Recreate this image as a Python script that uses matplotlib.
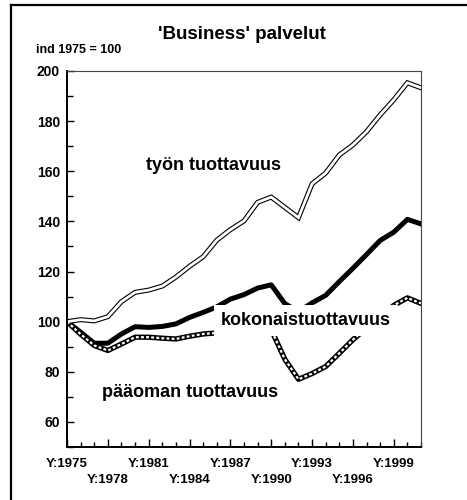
import numpy as np
import matplotlib
matplotlib.use('Agg')
import matplotlib.pyplot as plt
from matplotlib.lines import Line2D
from matplotlib.ticker import MultipleLocator

plt.rcParams['font.family'] = ['Liberation Sans', 'DejaVu Sans']
plt.rcParams['font.weight'] = 'bold'

# index 1975 = 100
years = np.arange(1975, 2002)
tyon = [100, 100.8, 100.3, 102, 108, 111.7, 112.6, 114.2, 117.8, 122.1,
        125.9, 132.5, 136.7, 140.2, 147.6, 149.7, 145.6, 141.5, 155, 159.3,
        166.5, 170.5, 175.8, 182.5, 188.5, 195.3, 193.3]
kokonais = [100, 95.8, 91.4, 91.4, 95.1, 98, 97.7, 98.1, 99.1, 101.7,
            103.7, 105.9, 109, 110.8, 113.4, 114.7, 107.2, 104, 107.5, 110.5,
            116, 121.3, 126.8, 132.4, 135.7, 140.8, 139]
paaoma = [100, 95, 90.5, 88.5, 91.1, 93.8, 93.8, 93.4, 93.1, 94.2,
          95.1, 95.5, 96.2, 96.4, 96.6, 96.8, 85, 77, 79.3, 82.1,
          87.4, 92.8, 97.5, 102, 106.5, 109.5, 107.3]

tick_years = np.arange(1975, 2000, 3)
tick_labels = ['Y:%d' % y if k % 2 == 0 else '\nY:%d' % y
               for k, y in enumerate(tick_years)]

fig = plt.figure(figsize=(4.67, 5), dpi=100)
ax = fig.add_axes([0.1435, 0.106, 0.758, 0.752])

# työn tuottavuus: double line
ax.plot(years, tyon, color='black', lw=3.6, zorder=2, solid_joinstyle='miter')
ax.plot(years, tyon, color='white', lw=2.0, zorder=2.1, solid_joinstyle='miter')
# kokonaistuottavuus: thick black
ax.plot(years, kokonais, color='black', lw=3.6, zorder=2)
# pääoman tuottavuus: black with white dashes
ax.plot(years, paaoma, color='black', lw=3.8, zorder=2)
ax.plot(years, paaoma, color='white', lw=1.6, zorder=2.1,
        linestyle=(0, (1.3, 1.0)))

ax.set_xlim(1975, 2001)
ax.set_ylim(50, 200)
ax.set_yticks(np.arange(60, 201, 20))
ax.yaxis.set_minor_locator(MultipleLocator(10))
ax.set_xticks(tick_years)
ax.set_xticklabels(tick_labels, linespacing=1.4)
ax.xaxis.set_minor_locator(MultipleLocator(1))

ax.tick_params(axis='both', which='both', direction='in', width=1)
ax.tick_params(axis='y', which='major', length=5, labelsize=10, pad=5)
ax.tick_params(axis='y', which='minor', length=4)
ax.tick_params(axis='x', which='major', length=6, labelsize=9.5, pad=8)
ax.tick_params(axis='x', which='minor', length=3.5)
for lab in ax.get_xticklabels() + ax.get_yticklabels():
    lab.set_fontweight('bold')
for side in ['left', 'bottom']:
    ax.spines[side].set_linewidth(1.4)
for side in ['top', 'right']:
    ax.spines[side].set_linewidth(0.8)
    ax.spines[side].set_color('#444444')

ax.text(1985.75, 162.5, 'työn tuottavuus', fontsize=13, fontweight='bold',
        ha='center', va='center', zorder=5)
ax.text(1992.56, 100.4, 'kokonaistuottavuus', fontsize=13, fontweight='bold',
        ha='center', va='center', zorder=5,
        bbox=dict(facecolor='white', edgecolor='none', pad=5))
ax.text(1984.07, 71.8, 'pääoman tuottavuus', fontsize=13, fontweight='bold',
        ha='center', va='center', zorder=5,
        bbox=dict(facecolor='white', edgecolor='none', pad=3))

fig.text(242 / 467, 1 - 34 / 500, "'Business' palvelut", fontsize=13.5,
         fontweight='bold', ha='center', va='center')
fig.text(36 / 467, 1 - 50 / 500, 'ind 1975 = 100', fontsize=9,
         fontweight='bold', ha='left', va='center')

# outer frame (left and top)
fig.add_artist(Line2D([11 / 467, 11 / 467], [0, 1 - 5 / 500],
                      transform=fig.transFigure, color='black', lw=1.6))
fig.add_artist(Line2D([11 / 467, 1], [1 - 5 / 500, 1 - 5 / 500],
                      transform=fig.transFigure, color='black', lw=1.6))

fig.savefig('out.png', dpi=100)
